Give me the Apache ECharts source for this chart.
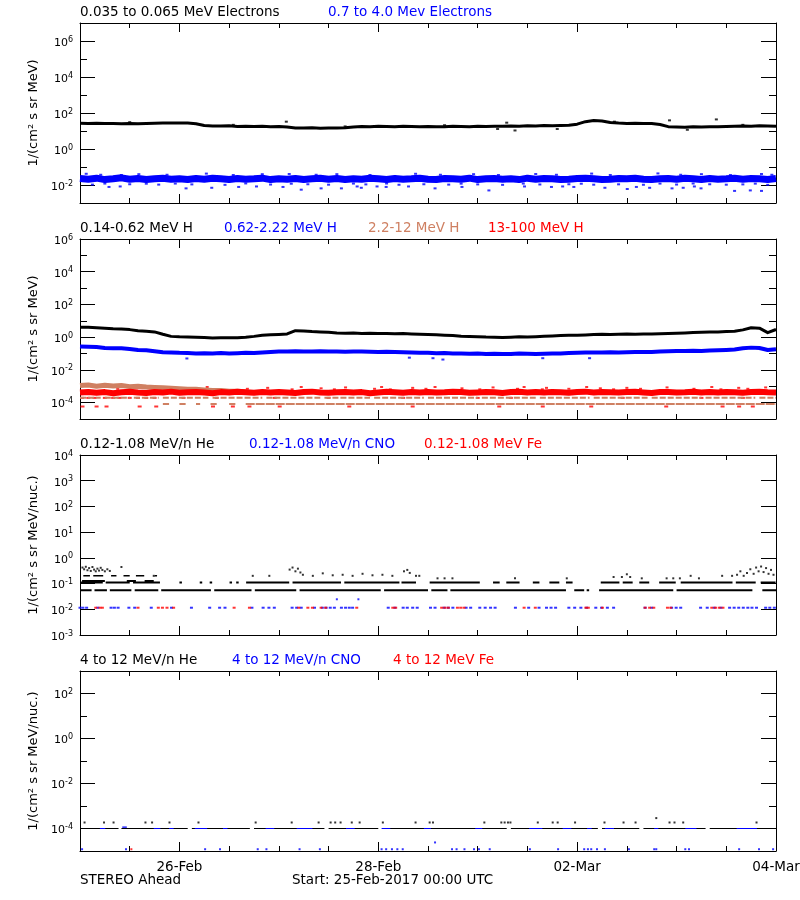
<!DOCTYPE html>
<html><head><meta charset="utf-8">
<script src="https://cdn.jsdelivr.net/npm/echarts@6/dist/echarts.min.js"></script>
<style>html,body{margin:0;padding:0;background:#fff}#c{width:800px;height:900px}</style>
</head><body><div id="c"></div>
<script>
// ---------------- DATA (hours since 25-Feb-2017 00:00 UTC) ----------------
const STEP_H = 2;            // sampling step of the continuous series (hours)
const HOURS_SPAN = 168;
const xTickHours = [24, 72, 120, 168];
const xTickLabels = ['26-Feb', '28-Feb', '02-Mar', '04-Mar'];

// Panel 1: electrons, 1/(cm2 s sr MeV)
const elecLow = [
  27,26,27,26,26,25,26,25,26,27,
  28,27.5,28,27.5,25,20,19,19,19.5,18,
  18.6,17.8,18.2,17.4,17.8,16.6,14.8,14.5,15.1,14.1,
  14.8,14.5,15.1,16.6,17.8,17.4,18.2,17.8,17.4,18.2,
  17.8,17.4,17.8,17.0,17.4,18.2,17.8,17.4,18.2,17.8,
  18.6,18.2,19.1,18.6,19.5,19.1,20.0,19.5,20.4,20.9,
  24,33,38,35.5,29.5,27.5,26.3,26.9,25.7,26.3,
  22.9,17.4,16.6,16.2,17.0,16.6,17.4,17.0,17.8,18.6,
  19.1,18.6,19.5,19.1,18.2];
const elecLowOut = [[49.8,33],[103,29],[142.3,39],[153.6,44],[105,10.7],[146.6,11.7],[115.2,12.9],[100.8,12.9],
  [12,31],[37,22],[64,18],[88,21],[129,33],[160,22]];
const elecHigh = [
  0.023,0.021,0.024,0.020,0.022,0.025,0.021,0.023,0.020,0.022,
  0.024,0.021,0.022,0.020,0.023,0.021,0.024,0.022,0.020,0.023,
  0.021,0.022,0.024,0.020,0.022,0.021,0.023,0.020,0.022,0.024,
  0.021,0.023,0.020,0.022,0.021,0.024,0.022,0.020,0.023,0.021,
  0.022,0.024,0.021,0.020,0.023,0.022,0.021,0.024,0.020,0.022,
  0.023,0.021,0.022,0.020,0.024,0.021,0.023,0.022,0.020,0.021,
  0.023,0.024,0.022,0.020,0.021,0.023,0.022,0.024,0.021,0.020,
  0.022,0.023,0.021,0.024,0.022,0.020,0.023,0.021,0.022,0.024,
  0.021,0.023,0.022,0.020,0.023];
const elecHighOut = [
  [7.0,0.0078],[9.7,0.0083],[25.6,0.0065],[31.8,0.0070],[38.3,0.0078],[42.6,0.0083],[49.0,0.0078],
  [53.4,0.0055],[58.2,0.0065],[63.1,0.0065],[66.9,0.0083],[67.9,0.0070],[71.7,0.0083],[73.9,0.0078],
  [79.3,0.0083],[85.7,0.0065],[92.2,0.0078],[98.7,0.0050],[107.3,0.0083],[113.8,0.0078],[116.5,0.0083],
  [119.2,0.0078],[126.7,0.0070],[132.1,0.0060],[134.3,0.0078],[137.5,0.0070],[142.9,0.0065],[145.6,0.0070],
  [148.3,0.0083],[149.9,0.0065],[158.0,0.0047],[161.8,0.0050],[164.5,0.0047],
  [3,0.0105],[12,0.011],[19,0.0105],[27,0.0108],[35,0.0102],[46,0.0106],[55,0.011],[60,0.0104],
  [69,0.0108],[77,0.0103],[83,0.011],[89,0.0105],[96,0.0108],[102,0.0102],[111,0.0107],[118,0.011],
  [124,0.0104],[130,0.0109],[136,0.0103],[144,0.0106],[152,0.011],[156,0.0104],[160,0.0108],[166,0.0102],
  [6,0.012],[16,0.0118],[23,0.012],[40,0.0122],[51,0.0118],[66,0.012],[74,0.0121],[92,0.0119],
  [107,0.012],[121,0.0118],[140,0.012],[148,0.0121],[163,0.0119],
  [1.5,0.042],[14.2,0.040],[30.5,0.043],[44,0.040],[50.5,0.041],[62,0.040],[81,0.042],[95,0.040],
  [110,0.041],[123.5,0.043],[139.5,0.044],[150,0.040],[164.5,0.041],
  [5,0.037],[10,0.036],[21,0.037],[37,0.036],[57,0.037],[70,0.036],[87,0.037],[101,0.036],
  [115,0.037],[128,0.036],[145,0.037],[157,0.036],[167,0.037]];

// Panel 2: protons, 1/(cm2 s sr MeV)
const hLow = [
  4.1,4.0,3.8,3.55,3.3,3.15,2.9,2.5,2.3,2.1,
  1.5,1.12,1.05,1.02,1.0,0.95,0.89,0.91,0.91,0.93,
  1.0,1.12,1.32,1.41,1.48,1.58,2.5,2.4,2.2,2.1,
  2.0,1.82,1.74,1.78,1.66,1.74,1.7,1.66,1.62,1.66,
  1.58,1.5,1.45,1.41,1.32,1.26,1.15,1.1,1.07,1.02,
  1.0,0.95,1.0,1.05,1.02,1.07,1.15,1.2,1.26,1.29,
  1.32,1.38,1.45,1.5,1.48,1.5,1.55,1.5,1.58,1.55,
  1.62,1.66,1.74,1.82,1.91,2.0,2.04,2.1,2.2,2.3,
  2.8,3.8,3.55,1.9,2.95];
const hMid = [
  0.27,0.26,0.25,0.22,0.21,0.21,0.19,0.166,0.158,0.138,
  0.12,0.117,0.11,0.107,0.102,0.105,0.1,0.107,0.102,0.105,
  0.11,0.107,0.117,0.126,0.132,0.135,0.138,0.132,0.135,0.138,
  0.132,0.135,0.129,0.132,0.135,0.129,0.126,0.129,0.123,0.12,
  0.117,0.112,0.11,0.105,0.107,0.102,0.1,0.098,0.1,0.095,
  0.098,0.093,0.095,0.1,0.098,0.095,0.098,0.1,0.102,0.107,
  0.112,0.115,0.117,0.115,0.12,0.117,0.12,0.123,0.126,0.126,
  0.132,0.138,0.141,0.145,0.148,0.145,0.151,0.158,0.166,0.178,
  0.21,0.23,0.22,0.166,0.186];
const hMidOut = [[25.8,0.05],[79.5,0.056],[85.2,0.052],[87.6,0.043],[111.7,0.052],[123,0.052]];
const tanEarly = [1.1e-3,1.2e-3,1.0e-3,1.15e-3,1.05e-3,1.1e-3,9.5e-4,1.0e-3,9.0e-4,8.5e-4,
  8.0e-4,7.5e-4,7.0e-4,6.5e-4,6.5e-4,6.0e-4,5.5e-4,5.5e-4,5.0e-4,5.0e-4,4.5e-4];
const tanHiLevel = 2.0e-4, tanLoLevel = 8.3e-5;
const tanHiSegs = [[0,5],[6,12],[13,19],[20,31],[32,44],[45,58],[59,70],[71,83],[84,96],[97,110],[111,123],[124,137],[138,150],[151,163],[164,168]];
const tanLoSegs = [[20,21.5],[24,25.5],[28,29],[31.5,33],[36,37.5],[40,168]];
const redH = [
  4.2e-4,4.5e-4,4.0e-4,4.4e-4,3.8e-4,4.3e-4,4.6e-4,4.1e-4,3.9e-4,4.4e-4,
  4.2e-4,4.7e-4,4.0e-4,4.3e-4,4.5e-4,4.1e-4,3.8e-4,4.4e-4,4.2e-4,4.6e-4,
  4.3e-4,4.0e-4,4.4e-4,4.1e-4,4.5e-4,4.2e-4,3.9e-4,4.4e-4,4.7e-4,4.2e-4,
  4.0e-4,4.3e-4,4.5e-4,4.1e-4,4.4e-4,3.8e-4,4.2e-4,4.6e-4,4.3e-4,4.0e-4,
  4.4e-4,4.2e-4,4.5e-4,4.1e-4,4.3e-4,4.7e-4,4.4e-4,4.0e-4,4.2e-4,4.5e-4,
  4.3e-4,3.9e-4,4.4e-4,4.6e-4,4.2e-4,4.4e-4,4.1e-4,4.5e-4,4.3e-4,4.0e-4,
  4.4e-4,4.7e-4,4.2e-4,4.5e-4,4.3e-4,4.1e-4,4.4e-4,4.6e-4,4.2e-4,3.9e-4,
  4.4e-4,4.5e-4,4.2e-4,4.3e-4,4.6e-4,4.1e-4,4.4e-4,4.2e-4,4.5e-4,4.3e-4,
  4.0e-4,4.4e-4,4.6e-4,4.3e-4,4.2e-4];
const redHUp = [[9.1,7e-4],[18.9,8e-4],[22.6,6.5e-4],[30.7,9e-4],[40.4,7e-4],[45.3,8e-4],[51.2,6.5e-4],
  [53.4,9e-4],[58.2,7.5e-4],[61.4,6.5e-4],[64.1,8.5e-4],[71.1,7e-4],[72.8,9e-4],[74.9,6.5e-4],[80.3,8e-4],
  [83.5,7e-4],[85.7,9e-4],[92.2,7.5e-4],[96.5,6.5e-4],[99.7,8.5e-4],[105.6,7e-4],[107.2,9e-4],[111.6,6.5e-4],
  [112.6,8e-4],[118.0,7e-4],[122.3,9e-4],[125.6,7.5e-4],[128.8,6.5e-4],[132.0,8e-4],[135.3,7e-4],[141.7,8.5e-4],
  [148.2,7e-4],[152.5,9e-4],[154.7,6.5e-4],[159.0,8e-4],[161.2,7e-4],[165.5,8.5e-4]];
const redHLow = [[0.5,1.95e-4],[2,1.95e-4],[3.5,1.95e-4],[6,1.95e-4],[8,1.95e-4],[9.5,1.95e-4],[12,1.95e-4],
  [14,1.95e-4],[16,1.95e-4],[18,1.95e-4],[25,1.95e-4],[33,1.95e-4],[47,1.95e-4],[60,1.95e-4],[78,1.95e-4],
  [96,1.95e-4],[104,1.95e-4],[131,1.95e-4],[150,1.95e-4],[160,1.95e-4],
  [0.6,5.8e-5],[4.0,5.8e-5],[6.4,5.8e-5],[14.4,5.8e-5],[18.4,5.8e-5],[32.1,5.8e-5],[36.9,5.8e-5],[40.9,5.8e-5],
  [48.2,5.8e-5],[65.0,5.8e-5],[80.3,5.8e-5],[101.2,5.8e-5],[111.7,5.8e-5],[123.4,5.8e-5],[141.5,5.8e-5],
  [155.1,5.8e-5],[159.1,5.8e-5],[162.4,5.8e-5]];

// Panel 3: 0.12-1.08 MeV/n, 1/(cm2 s sr MeV/nuc.)
const he1Row1Level = 0.055, he1Row2Level = 0.11, he1Row3Level = 0.125, he1Row4Level = 0.2;
const he1Row1Segs = [[0,2.8],[3.5,6.5],[7.2,12.4],[13.2,18.9],[19.6,31.6],[32.4,41.4],[42.2,52.2],[53,72.6],[73.4,84],[84.8,88.7],[89.4,117.3],[119.3,121.7],[122.3,122.9],[125.3,143.2],[144,162.3],[164.7,168]];
const he1Row2Segs = [[0,5.5],[6.2,12],[12.8,19.3],[24,24.6],[28.9,29.5],[31.3,31.9],[36.1,36.7],[37.7,38.3],[40.1,50.5],[51.3,63],[63.8,77.1],[77.6,81.1],[84.4,96.5],[99.7,101.3],[102.9,106.1],[109.3,110.9],[113.3,115.7],[117.3,118.9],[125.7,130.2],[131,133.4],[135,137.4],[139.8,143.8],[145,157.5],[158.3,163.1],[164.3,167.9]];
const he1Row3Segs = [[0.5,6],[11.3,13.5],[15.6,17.8]];
const he1Row4Segs = [[0.8,2.4],[3.2,5.6],[7.5,8.8],[10.5,12],[13.5,15.5],[18,18.6]];
const he1Upper = [[0.6,0.42],[1.0,0.36],[1.4,0.45],[1.8,0.33],[2.2,0.40],[2.6,0.31],[3.0,0.44],[3.4,0.35],[3.8,0.30],[4.2,0.38],
  [4.6,0.32],[5.0,0.41],[5.4,0.34],[6.0,0.30],[6.6,0.36],[7.2,0.31],[10.0,0.44],[17.8,0.2],[41.7,0.2],[45.7,0.2],[50.6,0.35],
  [51.3,0.42],[52.0,0.30],[52.6,0.38],[53.2,0.27],[53.8,0.22],[56.2,0.20],[58.6,0.25],[61.0,0.21],[63.4,0.22],[65.8,0.20],
  [68.2,0.24],[70.6,0.21],[73.0,0.22],[75.4,0.20],[78.2,0.30],[79.0,0.34],[79.6,0.26],[81.1,0.2],[81.9,0.2],[86.3,0.16],
  [88.0,0.16],[89.9,0.16],[105.0,0.16],[117.5,0.16],[128.8,0.18],[130.8,0.18],[132.0,0.23],[132.8,0.18],[135.6,0.16],
  [141.6,0.16],[143.2,0.16],[144.8,0.16],[147.4,0.2],[149.4,0.16],[155.0,0.2],[157.4,0.2],[158.6,0.22],[159.4,0.3],
  [160.2,0.2],[161.0,0.26],[161.8,0.36],[162.6,0.24],[163.2,0.42],[163.8,0.3],[164.4,0.46],[165.0,0.28],[165.6,0.4],
  [166.2,0.24],[166.8,0.34],[167.4,0.22]];
const cno1Level = 0.0115;
const cno1Hours = [0,0.7,1.6,4.3,7.5,8.3,9.2,11.8,13.2,17.2,22.1,26.9,31.3,33.7,35.0,41.5,44.2,45.6,46.9,51.2,52.3,53.4,
  56.6,58.5,59.4,60.4,61.4,63.1,64.1,65.0,65.8,74.4,76.0,78.0,79.0,80.3,81.4,84.6,85.7,87.9,88.9,90.0,93.2,94.3,96.5,
  97.8,99.1,100.2,105.1,108.3,110.8,112.6,113.7,114.8,118.0,119.4,120.9,122.3,124.5,125.9,127.3,128.8,136.4,138.0,
  142.8,143.9,145.0,149.8,151.4,153.1,154.7,156.8,157.9,159.0,160.1,161.2,162.2,163.3,165.5,166.5,167.6];
const cno1High = [[62.0,0.0245],[67.2,0.0245]];
const fe1Hours = [3.8,4.8,5.4,14.0,18.9,19.9,21.0,22.6,37.2,40.9,52.8,55.0,56.1,58.2,59.3,66.8,75.5,76.2,87.3,88.1,88.9,
  91.1,91.9,92.7,107.2,109.9,122.1,122.7,126.1,136.4,137.5,138.5,141.8,142.6,152.5,153.4,154.3,155.2];

// Panel 4: 4-12 MeV/n, 1/(cm2 s sr MeV/nuc.)
const he4RowLevel = 1e-4;
const he4RowSegs = [[0,9.3],[10,26],[27,41],[42,59],[60,72],[73,103],[104,125],[126,135],[136,151],[152,168]];
const he4Upper = [[1.1,1.85e-4],[5.8,1.85e-4],[8.1,1.85e-4],[15.8,1.85e-4],[17.4,1.85e-4],[21.6,1.85e-4],[28.6,1.85e-4],
  [42.4,1.85e-4],[51.1,1.85e-4],[57.6,1.85e-4],[60.5,1.85e-4],[61.6,1.85e-4],[62.9,1.85e-4],[65.6,1.85e-4],[67.5,1.85e-4],
  [73.1,1.85e-4],[81.0,1.85e-4],[84.4,1.85e-4],[85.2,1.85e-4],[97.6,1.85e-4],[101.7,1.85e-4],[102.5,1.85e-4],[103.3,1.85e-4],
  [103.9,1.85e-4],[110.5,1.85e-4],[114.1,1.85e-4],[115.3,1.85e-4],[119.5,1.85e-4],[126.6,1.85e-4],[131.2,1.85e-4],
  [134.1,1.85e-4],[139.1,2.9e-4],[142.3,1.85e-4],[143.5,1.85e-4],[145.6,1.85e-4],[163.3,1.85e-4]];
const cno4RowLevel = 1e-4, cno4BumpLevel = 1.15e-4;
const cno4RowSegs = [[4.8,6.1],[17.8,19.4],[21.5,22.6],[27.7,30.7],[34.5,35.6],[44.8,46.9],[52.3,56.1],[64.2,66.3],[72.8,74.9],
  [83,84.7],[95.4,97.1],[108.4,111.6],[116.5,118.6],[122.4,123.5],[126.7,128.9],[138.6,139.6],[146.1,148.8],[158.5,163.4]];
const cno4BumpSegs = [[10.2,11.3]];
const cno4Low = [[0.5,1.2e-5],[11.1,1.2e-5],[30.2,1.2e-5],[33.8,1.2e-5],[42.9,1.2e-5],[45.0,1.2e-5],[53.0,1.2e-5],[57.9,1.2e-5],
  [72.8,1.2e-5],[73.9,1.2e-5],[75.3,1.2e-5],[76.6,1.2e-5],[77.9,1.2e-5],[85.7,2.4e-5],[89.8,1.2e-5],[90.9,1.2e-5],[92.8,1.2e-5],
  [95.1,1.2e-5],[96.3,1.2e-5],[98.9,1.2e-5],[108.6,1.2e-5],[115.4,1.2e-5],[121.7,1.2e-5],[122.6,1.2e-5],[123.4,1.2e-5],
  [124.8,1.2e-5],[126.7,1.2e-5],[132.5,1.2e-5],[138.6,1.2e-5],[139.1,1.2e-5],[146.1,1.2e-5],[147.0,1.2e-5],[159.1,1.2e-5],
  [163.9,1.2e-5],[167.3,1.2e-5]];
const fe4Low = [[12.4,1.2e-5]];

// ---------------- CHART ----------------
const FONT = 'DejaVu Sans';
const BLACK = '#000000', BLUE = '#0000ff', RED = '#ff0000', TAN = '#cf8062';
const L = v => Math.log10(v);
const sampled = arr => arr.map((v, i) => [i * STEP_H, L(v)]);
const pts = arr => arr.map(p => [p[0], L(p[1])]);
const atLevel = (hours, v) => hours.map(h => [h, L(v)]);
const row = (segs, v) => { const out = []; segs.forEach(s => { out.push([s[0], L(v)], [s[1], L(v)], [s[1], '-']); }); return out; };

const panels = [
  {min: -3, max: 7, labels: [-2, 0, 2, 4, 6], minor: true, name: '1/(cm² s sr MeV)'},
  {min: -5, max: 6, labels: [-4, -2, 0, 2, 4, 6], minor: true, name: '1/(cm² s sr MeV)'},
  {min: -3, max: 4, labels: [-3, -2, -1, 0, 1, 2, 3, 4], minor: false, name: '1/(cm² s sr MeV/nuc.)'},
  {min: -5, max: 3, labels: [-4, -2, 0, 2], minor: true, name: '1/(cm² s sr MeV/nuc.)'}
];
const gridTops = [23, 239, 455, 671];
const grids = gridTops.map(t => ({left: 80, top: t, width: 696, height: 180, containLabel: false, outerBoundsMode: 'none'}));

const fmtX = v => { const i = xTickHours.indexOf(v); return i >= 0 ? xTickLabels[i] : ''; };
const fmtY = v => '{b|10}{s|' + v + '}';
const RICH = {
  b: {fontFamily: FONT, fontSize: 11, color: BLACK, lineHeight: 11, padding: [4, 0, 0, 0]},
  s: {fontFamily: FONT, fontSize: 8, color: BLACK, lineHeight: 8, verticalAlign: 'top'}
};
const tickLS = {color: BLACK, width: 1};

const xAxes = [], yAxes = [], dataX = [], dataY = [];
panels.forEach((p, g) => {
  const xb = {gridIndex: g, type: 'value', min: 0, max: HOURS_SPAN, splitLine: {show: false}, axisPointer: {show: false}};
  dataX[g] = xAxes.length;
  xAxes.push(Object.assign({}, xb, {position: 'bottom',
    axisLine: {show: true, onZero: false, lineStyle: tickLS},
    axisTick: {show: true, inside: true, length: 9, customValues: xTickHours, lineStyle: tickLS},
    axisLabel: {show: g === 3, customValues: xTickHours, formatter: fmtX, margin: 9, color: BLACK,
      fontFamily: FONT, fontSize: 13.5, hideOverlap: false, showMaxLabel: true, showMinLabel: true}}));
  xAxes.push(Object.assign({}, xb, {position: 'bottom', interval: 12,
    axisLine: {show: false, onZero: false}, axisTick: {show: true, inside: true, length: 5, lineStyle: tickLS},
    axisLabel: {show: false}}));
  xAxes.push(Object.assign({}, xb, {position: 'top',
    axisLine: {show: true, onZero: false, lineStyle: tickLS},
    axisTick: {show: true, inside: true, length: 9, customValues: xTickHours, lineStyle: tickLS},
    axisLabel: {show: false}}));
  xAxes.push(Object.assign({}, xb, {position: 'top', interval: 12,
    axisLine: {show: false, onZero: false}, axisTick: {show: true, inside: true, length: 5, lineStyle: tickLS},
    axisLabel: {show: false}}));

  const yb = {gridIndex: g, type: 'value', min: p.min, max: p.max, splitLine: {show: false}, axisPointer: {show: false}};
  dataY[g] = yAxes.length;
  yAxes.push(Object.assign({}, yb, {position: 'left',
    axisLine: {show: true, onZero: false, lineStyle: tickLS},
    axisTick: {show: true, inside: true, length: 15, customValues: p.labels, lineStyle: tickLS},
    axisLabel: {show: true, customValues: p.labels, formatter: fmtY, margin: 7, rich: RICH, hideOverlap: false,
      showMinLabel: true, showMaxLabel: true},
    name: p.name, nameLocation: 'middle', nameGap: 40, nameRotate: 90,
    nameTextStyle: {fontFamily: FONT, fontSize: 13, color: BLACK}}));
  yAxes.push(Object.assign({}, yb, {position: 'right',
    axisLine: {show: true, onZero: false, lineStyle: tickLS},
    axisTick: {show: true, inside: true, length: 15, customValues: p.labels, lineStyle: tickLS},
    axisLabel: {show: false}}));
  if (p.minor) {
    yAxes.push(Object.assign({}, yb, {position: 'left', interval: 1,
      axisLine: {show: false, onZero: false}, axisTick: {show: true, inside: true, length: 7, lineStyle: tickLS},
      axisLabel: {show: false}}));
    yAxes.push(Object.assign({}, yb, {position: 'right', interval: 1,
      axisLine: {show: false, onZero: false}, axisTick: {show: true, inside: true, length: 7, lineStyle: tickLS},
      axisLabel: {show: false}}));
  }
});

const series = [];
function lineS(g, data, color, width, dash) {
  series.push({type: 'line', xAxisIndex: dataX[g], yAxisIndex: dataY[g], data, symbol: 'none', showSymbol: false,
    connectNulls: false, silent: true, animation: false,
    lineStyle: {color, width, type: dash || 'solid', cap: 'butt', join: 'round'}});
}
function dotS(g, data, color, size) {
  series.push({type: 'scatter', xAxisIndex: dataX[g], yAxisIndex: dataY[g], data, symbol: 'rect', symbolSize: size,
    silent: true, animation: false, itemStyle: {color, borderWidth: 0}});
}
// Panel 1
lineS(0, sampled(elecLow), BLACK, 3);
dotS(0, pts(elecLowOut), BLACK, [3, 2]);
lineS(0, sampled(elecHigh), BLUE, 7);
dotS(0, pts(elecHighOut), BLUE, [3, 2]);
// Panel 2
lineS(1, sampled(hLow), BLACK, 3);
lineS(1, sampled(hMid), BLUE, 4);
dotS(1, pts(hMidOut), BLUE, [3, 2]);
lineS(1, sampled(tanEarly), TAN, 5);
lineS(1, row(tanHiSegs, tanHiLevel), TAN, 2, [6, 2]);
lineS(1, row(tanLoSegs, tanLoLevel), TAN, 2, [9, 1]);
lineS(1, sampled(redH), RED, 6);
dotS(1, pts(redHUp), RED, [3, 2]);
dotS(1, pts(redHLow), RED, [4, 2]);
// Panel 3
lineS(2, row(he1Row1Segs, he1Row1Level), BLACK, 2);
lineS(2, row(he1Row2Segs, he1Row2Level), BLACK, 2);
lineS(2, row(he1Row3Segs, he1Row3Level), BLACK, 2);
lineS(2, row(he1Row4Segs, he1Row4Level), BLACK, 1.5);
dotS(2, pts(he1Upper), BLACK, [2, 2]);
dotS(2, atLevel(cno1Hours, cno1Level), BLUE, [3, 2]);
dotS(2, pts(cno1High), BLUE, [2, 2]);
dotS(2, atLevel(fe1Hours, cno1Level), RED, [3, 2]);
// Panel 4
lineS(3, row(he4RowSegs, he4RowLevel), BLACK, 1.2);
dotS(3, pts(he4Upper), BLACK, [2, 2]);
lineS(3, row(cno4RowSegs, cno4RowLevel), BLUE, 1.2);
lineS(3, row(cno4BumpSegs, cno4BumpLevel), BLUE, 1.2);
dotS(3, pts(cno4Low), BLUE, [2, 2]);
dotS(3, pts(fe4Low), RED, [2, 2]);

const headers = [
  ['0.035 to 0.065 MeV Electrons', BLACK, 80, 5], ['0.7 to 4.0 Mev Electrons', BLUE, 328, 5],
  ['0.14-0.62 MeV H', BLACK, 80, 221], ['0.62-2.22 MeV H', BLUE, 224, 221], ['2.2-12 MeV H', TAN, 368, 221], ['13-100 MeV H', RED, 488, 221],
  ['0.12-1.08 MeV/n He', BLACK, 80, 437], ['0.12-1.08 MeV/n CNO', BLUE, 249, 437], ['0.12-1.08 MeV Fe', RED, 424, 437],
  ['4 to 12 MeV/n He', BLACK, 80, 653], ['4 to 12 MeV/n CNO', BLUE, 232, 653], ['4 to 12 MeV Fe', RED, 393, 653],
  ['STEREO Ahead', BLACK, 80, 873], ['Start: 25-Feb-2017 00:00 UTC', BLACK, 292, 873]
];
const titles = headers.map(h => ({text: h[0], left: h[2], top: h[3], padding: 0,
  textStyle: {color: h[1], fontFamily: FONT, fontSize: 13.5, fontWeight: 'normal'}}));

const chart = echarts.init(document.getElementById('c'), null, {renderer: 'canvas', width: 800, height: 900});
chart.setOption({animation: false, backgroundColor: '#ffffff', title: titles, grid: grids,
  xAxis: xAxes, yAxis: yAxes, series});
</script></body></html>
